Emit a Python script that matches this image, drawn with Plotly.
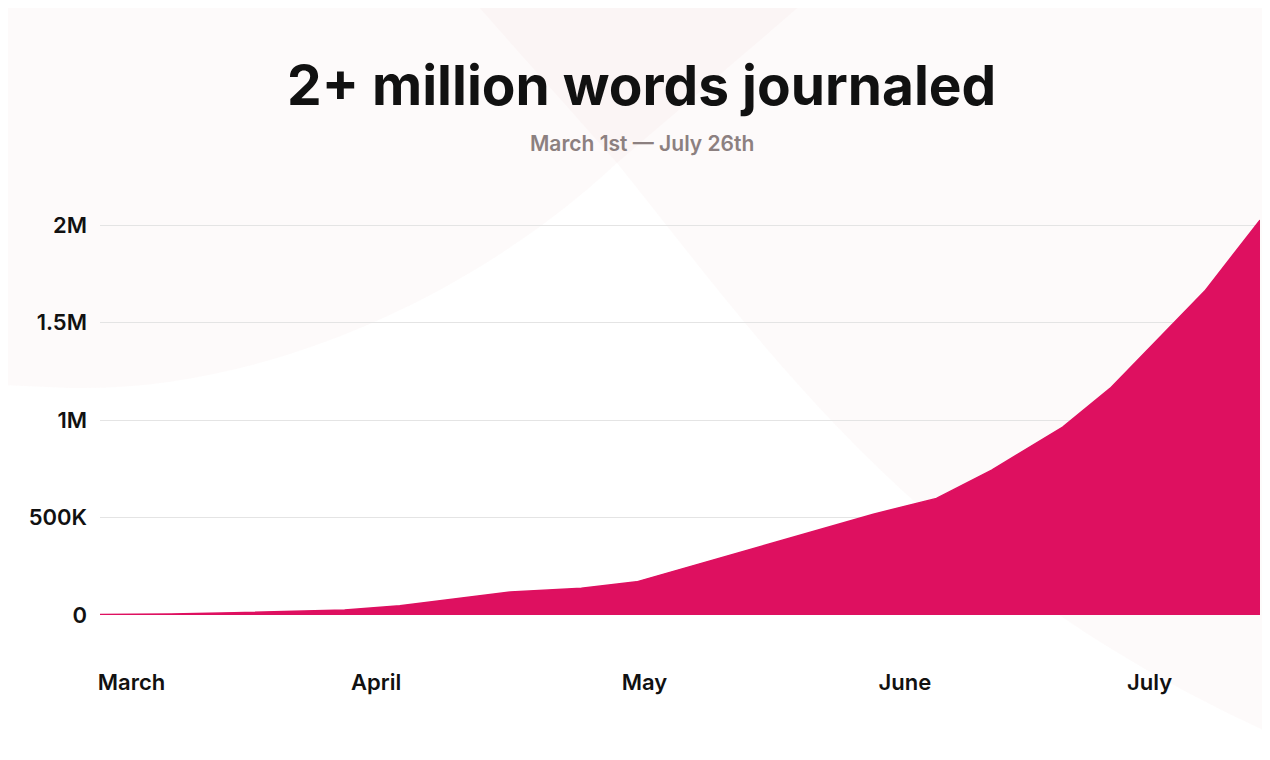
import plotly.graph_objects as go

# cumulative words journaled
dates = [
    "2020-03-01", "2020-03-10", "2020-03-18", "2020-04-01", "2020-04-08",
    "2020-04-22", "2020-05-01", "2020-05-08", "2020-06-07", "2020-06-15",
    "2020-06-22", "2020-07-01", "2020-07-07", "2020-07-19", "2020-07-26",
]
words = [
    2000, 5000, 12000, 25000, 47000,
    118000, 137000, 170000, 517000, 598000,
    743000, 964000, 1162000, 1661000, 2025000,
]

month_ticks = ["2020-03-05", "2020-04-05", "2020-05-09", "2020-06-11", "2020-07-12"]
month_labels = ["March", "April", "May", "June", "July"]

y_ticks = [0, 500000, 1000000, 1500000, 2000000]
y_labels = ["0", "500K", "1M", "1.5M", "2M"]

# the page body has an 8px margin, so the figure is laid out in page pixels
# and shifted back by that offset
OFF = 8
W, H = 1262, 752
PLOT_X0, PLOT_X1 = 100, 1260      # page px
PLOT_Y0, PLOT_Y1 = 213, 615       # page px (top, bottom)
M_L = PLOT_X0 - OFF
M_R = W - (PLOT_X1 - OFF)
M_T = PLOT_Y0 - OFF
M_B = H - (PLOT_Y1 - OFF)
PINK = "#DE1060"
FONT = "Inter"


def fx(x):
    return (x - PLOT_X0) / (PLOT_X1 - PLOT_X0)


def fy(y):
    return (PLOT_Y1 - y) / (PLOT_Y1 - PLOT_Y0)


def px(x, y):
    """page pixel -> paper fraction of the plot area"""
    return f"{fx(x):.4f},{fy(y):.4f}"


fig = go.Figure()
fig.add_trace(go.Scatter(
    x=dates,
    y=words,
    mode="lines",
    fill="tozeroy",
    fillcolor=PINK,
    line={"color": PINK, "width": 1.5},
    hoverinfo="x+y",
))

# faint decorative background blobs
tint = "rgba(225, 185, 190, 0.075)"
left_blob = (
    f"M {px(-20, -20)} L {px(830, -20)} L {px(617, 163)} "
    f"C {px(470, 300)} {px(260, 392)} {px(70, 388)} L {px(-20, 384)} Z"
)
right_blob = (
    f"M {px(455, -20)} L {px(617, 163)} "
    f"C {px(760, 340)} {px(920, 580)} {px(1290, 742)} L {px(1290, -20)} Z"
)
shapes = [
    dict(type="path", path=left_blob, xref="paper", yref="paper",
         fillcolor=tint, line={"width": 0}, layer="below"),
    dict(type="path", path=right_blob, xref="paper", yref="paper",
         fillcolor=tint, line={"width": 0}, layer="below"),
]

fig.update_layout(
    width=W,
    height=H,
    margin={"l": M_L, "r": M_R, "t": M_T, "b": M_B},
    paper_bgcolor="white",
    plot_bgcolor="rgba(0,0,0,0)",
    showlegend=False,
    shapes=shapes,
    font={"family": FONT, "size": 22, "color": "#111111", "weight": 600},
    annotations=[
        dict(text="2+ million words journaled", xref="paper", yref="paper",
             x=fx(641), y=fy(85),
             xanchor="center", yanchor="middle", showarrow=False,
             font={"family": FONT, "size": 55, "color": "#111111", "weight": 700}),
        dict(text="March 1st — July 26th", xref="paper", yref="paper",
             x=fx(642), y=fy(143),
             xanchor="center", yanchor="middle", showarrow=False,
             font={"family": FONT, "size": 21, "color": "#8C8080", "weight": 600}),
    ],
)

fig.update_xaxes(
    range=["2020-03-01", "2020-07-26"],
    tickvals=month_ticks,
    ticktext=month_labels,
    showgrid=False,
    zeroline=False,
    showline=False,
    ticks="",
    ticklabelstandoff=52,
    tickfont={"family": FONT, "size": 22, "color": "#111111", "weight": 600},
)
fig.update_yaxes(
    range=[0, 2061538],
    tickvals=y_ticks,
    ticktext=y_labels,
    showgrid=True,
    gridcolor="#E4E4E4",
    gridwidth=1,
    zeroline=False,
    showline=False,
    ticks="",
    ticklabelstandoff=12,
    tickfont={"family": FONT, "size": 22, "color": "#111111", "weight": 600},
)

fig.write_html("out.html")
